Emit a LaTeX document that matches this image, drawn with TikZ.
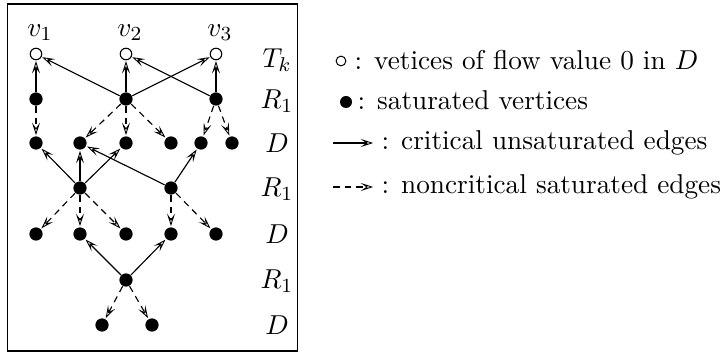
\documentclass[tikz,border=0pt]{standalone}
\usetikzlibrary{arrows.meta}
\begin{document}
\begin{tikzpicture}[x=0.4pt,y=-0.4pt,
  font=\fontsize{10.9}{13}\selectfont,
  vopen/.style={circle,draw,fill=white,line width=0.45pt,inner sep=0pt,minimum size=4.6pt},
  vsat/.style={circle,fill=black,inner sep=0pt,minimum size=5.3pt},
  tip/.style={-{Stealth[open,length=5pt,width=3.2pt,inset=2.2pt,line width=0.35pt]}},
  crit/.style={tip,line width=0.45pt,shorten >=0.3pt},
  noncrit/.style={tip,line width=0.45pt,dash pattern=on 2.6pt off 2pt,shorten >=0.3pt},
  rowlab/.style={inner sep=0pt},
  legtext/.style={anchor=west,inner sep=0pt}]
\useasboundingbox (0,0) rectangle (720,358);
\node[draw,line width=0.5pt,inner sep=0pt,minimum width=290*0.4pt,minimum height=347*0.4pt] (frame) at (152.75,177.5) {};
% top row
\node[vopen] (v1) at (36,54) {};
\node[vopen] (v2) at (126,54) {};
\node[vopen] (v3) at (216,54) {};
\node[anchor=south,inner sep=1pt] (lv1) at (40,44) {$v_1$};
\node[anchor=south,inner sep=1pt] (lv2) at (130,44) {$v_2$};
\node[anchor=south,inner sep=1pt] (lv3) at (220,44) {$v_3$};
% R1 row 1
\node[vsat] (ra) at (36,99) {};
\node[vsat] (rb) at (126,99) {};
\node[vsat] (rc) at (216,99) {};
% D row 1
\node[vsat] (d11) at (36,143) {};
\node[vsat] (d12) at (80,143) {};
\node[vsat] (d13) at (126,143) {};
\node[vsat] (d14) at (171,143) {};
\node[vsat] (d15) at (201,143) {};
\node[vsat] (d16) at (232,143) {};
% R1 row 2
\node[vsat] (re) at (80,188) {};
\node[vsat] (rf) at (171,188) {};
% D row 2
\node[vsat] (d21) at (36,234) {};
\node[vsat] (d22) at (80,234) {};
\node[vsat] (d23) at (126,234) {};
\node[vsat] (d24) at (171,234) {};
\node[vsat] (d25) at (216,234) {};
% R1 row 3
\node[vsat] (rg) at (126,280) {};
% D row 3
\node[vsat] (d31) at (102,325) {};
\node[vsat] (d32) at (152,325) {};
% edges
\draw[crit] (ra) -- (v1);
\draw[crit] (rb) -- (v1);
\draw[crit] (rb) -- (v2);
\draw[crit] (rb) -- (v3);
\draw[crit] (rc) -- (v2);
\draw[crit] (rc) -- (v3);
\draw[noncrit] (ra) -- (d11);
\draw[noncrit] (rb) -- (d12);
\draw[noncrit] (rb) -- (d13);
\draw[noncrit] (rb) -- (d14);
\draw[noncrit] (rc) -- (d15);
\draw[noncrit] (rc) -- (d16);
\draw[crit] (re) -- (d11);
\draw[crit] (re) -- (d12);
\draw[crit] (re) -- (d13);
\draw[crit] (rf) -- (d12);
\draw[crit] (rf) -- (d15);
\draw[noncrit] (re) -- (d21);
\draw[noncrit] (re) -- (d22);
\draw[noncrit] (re) -- (d23);
\draw[noncrit] (rf) -- (d24);
\draw[noncrit] (rf) -- (d25);
\draw[crit] (rg) -- (d22);
\draw[crit] (rg) -- (d24);
\draw[noncrit] (rg) -- (d31);
\draw[noncrit] (rg) -- (d32);
% row labels
\node[rowlab] (lt) at (277,60) {$T_k$};
\node[rowlab] (l1) at (277,101) {$R_1$};
\node[rowlab] (l2) at (277,143) {$D$};
\node[rowlab] (l3) at (277,189) {$R_1$};
\node[rowlab] (l4) at (277,234) {$D$};
\node[rowlab] (l5) at (277,281) {$R_1$};
\node[rowlab] (l6) at (277,325) {$D$};
% legend
\node[circle,draw,line width=0.4pt,inner sep=0pt,minimum size=3.9pt] (lgo) at (341,61) {};
\node[legtext] (lgot) at (354,60) {: vetices of flow value 0 in $D$};
\node[vsat,minimum size=4.8pt] (lgs) at (346,102) {};
\node[legtext] (lgst) at (357,100) {: saturated vertices};
\coordinate (lca) at (333,143);
\coordinate (lcb) at (374,143);
\draw[crit] (lca) -- (lcb);
\node[legtext] (lct) at (381,143) {: critical unsaturated edges};
\coordinate (lna) at (333,187);
\coordinate (lnb) at (374,187);
\draw[noncrit] (lna) -- (lnb);
\node[legtext] (lnt) at (381,187) {: noncritical saturated edges};
\end{tikzpicture}
\end{document}
